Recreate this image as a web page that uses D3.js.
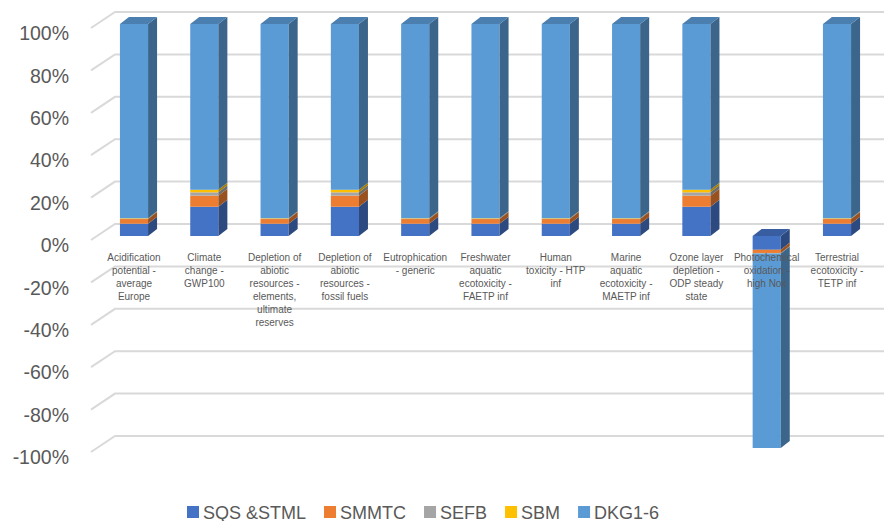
<!DOCTYPE html>
<html>
<head>
<meta charset="utf-8">
<script src="https://cdn.jsdelivr.net/npm/d3@7"></script>
<style>
  body { margin: 0; background: #fff; }
  svg text { font-family: "Liberation Sans", Arial, sans-serif; fill: #595959; }
</style>
</head>
<body>
<svg id="chart" width="884" height="521"></svg>
<script>
// categorias (quebras de linha como no original)
const categories = [
  "Acidification\npotential -\naverage\nEurope",
  "Climate\nchange -\nGWP100",
  "Depletion of\nabiotic\nresources -\nelements,\nultimate\nreserves",
  "Depletion of\nabiotic\nresources -\nfossil fuels",
  "Eutrophication\n- generic",
  "Freshwater\naquatic\necotoxicity -\nFAETP inf",
  "Human\ntoxicity - HTP\ninf",
  "Marine\naquatic\necotoxicity -\nMAETP inf",
  "Ozone layer\ndepletion -\nODP steady\nstate",
  "Photochemical\noxidation -\nhigh Nox",
  "Terrestrial\necotoxicity -\nTETP inf"
];

// séries (em %)
const seriesNames = ["SQS &STML", "SMMTC", "SEFB", "SBM", "DKG1-6"];
const sqs   = [5.8, 13.8, 5.8, 13.8, 5.8, 5.8, 5.8, 5.8, 13.8, -6.5, 5.8];
const smmtc = [2.2, 5.2, 2.2, 5.2, 2.2, 2.2, 2.2, 2.2, 5.2, -1.5, 2.2];
const sefb  = [0.2, 1.6, 0.2, 1.6, 0.2, 0.2, 0.2, 0.2, 1.6, -0.1, 0.2];
const sbm   = [0.2, 1.2, 0.2, 1.2, 0.2, 0.2, 0.2, 0.2, 1.2, -0.1, 0.2];
const dkg   = [91.6, 78.2, 91.6, 78.2, 91.6, 91.6, 91.6, 91.6, 78.2, -91.8, 91.6];

const tickValues = [100, 80, 60, 40, 20, 0, -20, -40, -60, -80, -100];
const tickLabels = ["100%", "80%", "60%", "40%", "20%", "0%", "-20%", "-40%", "-60%", "-80%", "-100%"];

const colors = ["#4472C4", "#ED7D31", "#A5A5A5", "#FFC000", "#5B9BD5"];

const svg = d3.select("#chart");

// tabela para o d3.stack
const table = categories.map((c, i) => ({
  cat: c,
  [seriesNames[0]]: sqs[i],
  [seriesNames[1]]: smmtc[i],
  [seriesNames[2]]: sefb[i],
  [seriesNames[3]]: sbm[i],
  [seriesNames[4]]: dkg[i]
}));
const stacked = d3.stack().keys(seriesNames).offset(d3.stackOffsetDiverging)(table);

// escalas: plano frontal das paredes e face frontal das barras
const yFront = d3.scaleLinear().domain([-100, 100]).range([452, 28]);
const yBar = v => yFront(v) - 4;
const x = d3.scaleBand().domain(categories).range([98.85, 872.15]).paddingInner(0.6).paddingOuter(0.3);

const wall = { dx: 24, dy: 16 };   // profundidade da parede lateral
const depth = { dx: 9, dy: 7 };    // profundidade das barras

// linhas de grade (parede lateral + parede de fundo)
svg.append("g")
  .selectAll("polyline")
  .data(tickValues)
  .join("polyline")
  .attr("fill", "none")
  .attr("stroke", "#d9d9d9")
  .attr("stroke-width", 2)
  .attr("points", d => {
    const y = yFront(d);
    return `91,${y} ${91 + wall.dx},${y - wall.dy} 884,${y - wall.dy}`;
  });

// rótulos do eixo y
const yAxis = d3.axisLeft(d3.scaleLinear().domain([-100, 100]).range([457.5, 33.5]))
  .tickValues(tickValues)
  .tickFormat((d, i) => tickLabels[i])
  .tickSize(0)
  .tickPadding(0);
svg.append("g")
  .attr("transform", "translate(69,0)")
  .call(yAxis)
  .call(g => g.select(".domain").remove())
  .call(g => g.selectAll("text")
    .style("font-family", "'Liberation Sans', Arial, sans-serif")
    .style("font-size", "19.5px")
    .attr("fill", "#595959"));

const shade = (c, k) => {
  const col = d3.rgb(c);
  return d3.rgb(col.r * k, col.g * k, col.b * k).formatHex();
};

// barras 3D
const bars = svg.append("g");
categories.forEach((cat, ci) => {
  const xl = x(cat), xr = xl + x.bandwidth();
  const g = bars.append("g");
  let topY = null, topColor = null;
  stacked.forEach((layer, si) => {
    const [v0, v1] = layer[ci];
    if (v0 === v1) return;
    const ya = yBar(Math.max(v0, v1)), yb = yBar(Math.min(v0, v1));
    g.append("rect")
      .attr("x", xl).attr("y", ya)
      .attr("width", xr - xl).attr("height", yb - ya)
      .attr("fill", colors[si]);
    g.append("polygon")
      .attr("points", `${xr},${ya} ${xr + depth.dx},${ya - depth.dy} ${xr + depth.dx},${yb - depth.dy} ${xr},${yb}`)
      .attr("fill", shade(colors[si], 0.65));
    // face superior: topo da pilha positiva ou nível zero da pilha negativa
    if (v1 >= 0 && v0 >= 0) {
      if (topY === null || ya < topY) { topY = ya; topColor = colors[si]; }
    } else if (topY === null) {
      topY = yBar(0); topColor = colors[si];
    }
  });
  if (topY !== null) {
    g.append("polygon")
      .attr("points", `${xl},${topY} ${xr},${topY} ${xr + depth.dx},${topY - depth.dy} ${xl + depth.dx},${topY - depth.dy}`)
      .attr("fill", shade(topColor, 0.82));
  }
});

// rótulos das categorias
const labels = svg.append("g");
categories.forEach(cat => {
  const cx = x(cat) + x.bandwidth() / 2;
  const t = labels.append("text")
    .attr("text-anchor", "middle")
    .style("font-size", "10px");
  cat.split("\n").forEach((line, li) => {
    t.append("tspan").attr("x", cx).attr("y", 260.5 + li * 13).text(line);
  });
});

// legenda
const legend = svg.append("g").attr("transform", "translate(187,506)");
let lx = 0;
seriesNames.forEach((name, i) => {
  const item = legend.append("g").attr("transform", `translate(${lx},0)`);
  item.append("rect").attr("width", 12).attr("height", 12).attr("fill", colors[i]);
  const txt = item.append("text")
    .attr("x", 16).attr("y", 12.5)
    .style("font-size", "18px")
    .text(name);
  lx += 16 + txt.node().getComputedTextLength() + 18;
});
</script>
</body>
</html>
